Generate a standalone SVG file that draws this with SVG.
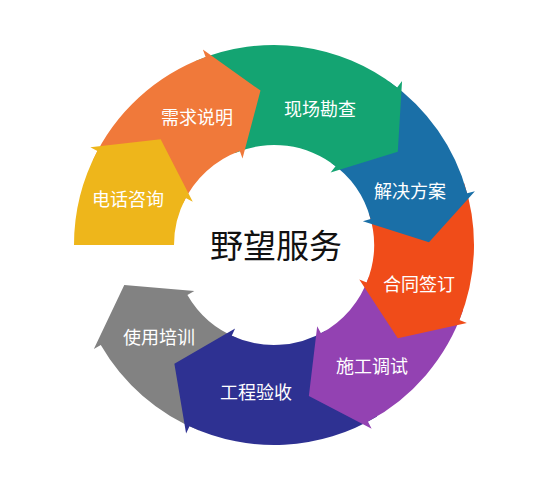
<svg xmlns="http://www.w3.org/2000/svg" width="550" height="495" viewBox="0 0 550 495">
<style>
.lbl{font-family:"Noto Sans CJK SC","Noto Sans",sans-serif;font-size:18px;fill:#ffffff;text-anchor:middle;dominant-baseline:central}
.ctr{font-family:"Noto Sans CJK SC","Noto Sans",sans-serif;font-size:33px;fill:#111111;text-anchor:middle;dominant-baseline:central}
</style>
<rect width="550" height="495" fill="#ffffff"/>
<g id="connectors"></g>
<g id="n8">
<path fill="#828282" d="M199.08,430.44 A200,200 0 0 1 100.79,345 L93.87,349 L124.28,285.12 L194.33,291 L187.40,295 A100,100 0 0 0 236.54,337.72 Z"/>
<text class="lbl" x="159" y="336">使用培训</text>
</g>
<g id="n7">
<path fill="#2E3192" d="M377.01,416.43 A200,200 0 0 1 189.48,426.26 L186.10,433.51 L174.37,363.74 L235.12,328.38 L231.74,335.63 A100,100 0 0 0 325.50,330.72 Z"/>
<text class="lbl" x="256" y="391">工程验收</text>
</g>
<g id="n6">
<path fill="#9342B2" d="M463.10,310.11 A200,200 0 0 1 367.89,421.59 L371.65,428.65 L308.87,396.03 L317.19,326.23 L320.95,333.30 A100,100 0 0 0 368.55,277.56 Z"/>
<text class="lbl" x="372" y="365">施工调试</text>
</g>
<g id="n5">
<path fill="#F04C19" d="M464.21,183.20 A200,200 0 0 1 459.44,319.92 L466.85,322.92 L397.79,338.28 L359.30,279.46 L366.72,282.46 A100,100 0 0 0 369.11,214.10 Z"/>
<text class="lbl" x="419" y="283">合同签订</text>
</g>
<g id="n4">
<path fill="#1A6FA7" d="M388.72,81.17 A200,200 0 0 1 467.19,193.24 L474.91,191.17 L428.98,242.30 L362.87,221.19 L370.59,219.12 A100,100 0 0 0 331.36,163.08 Z"/>
<text class="lbl" x="410" y="190">解决方案</text>
</g>
<g id="n3">
<path fill="#14A472" d="M195.85,60.90 A200,200 0 0 1 397.13,87.40 L402.06,81.09 L397.79,151.72 L330.64,172.50 L335.57,166.20 A100,100 0 0 0 234.93,152.95 Z"/>
<text class="lbl" x="320" y="108">现场勘查</text>
</g>
<g id="n2">
<path fill="#F0793A" d="M92.74,160.48 A200,200 0 0 1 205.60,57.06 L202.86,49.54 L260.49,90.59 L242.53,158.55 L239.80,151.03 A100,100 0 0 0 183.37,202.74 Z"/>
<text class="lbl" x="197" y="116">需求说明</text>
</g>
<g id="n1">
<path fill="#EEB61B" d="M74,245 A200,200 0 0 1 97.41,151.11 L90.35,147.35 L160.64,139.29 L192.77,201.81 L185.70,198.05 A100,100 0 0 0 174,245 Z"/>
<text class="lbl" x="128" y="198">电话咨询</text>
</g>
<g id="center">
<text class="ctr" x="276" y="244">野望服务</text>
</g>
</svg>
